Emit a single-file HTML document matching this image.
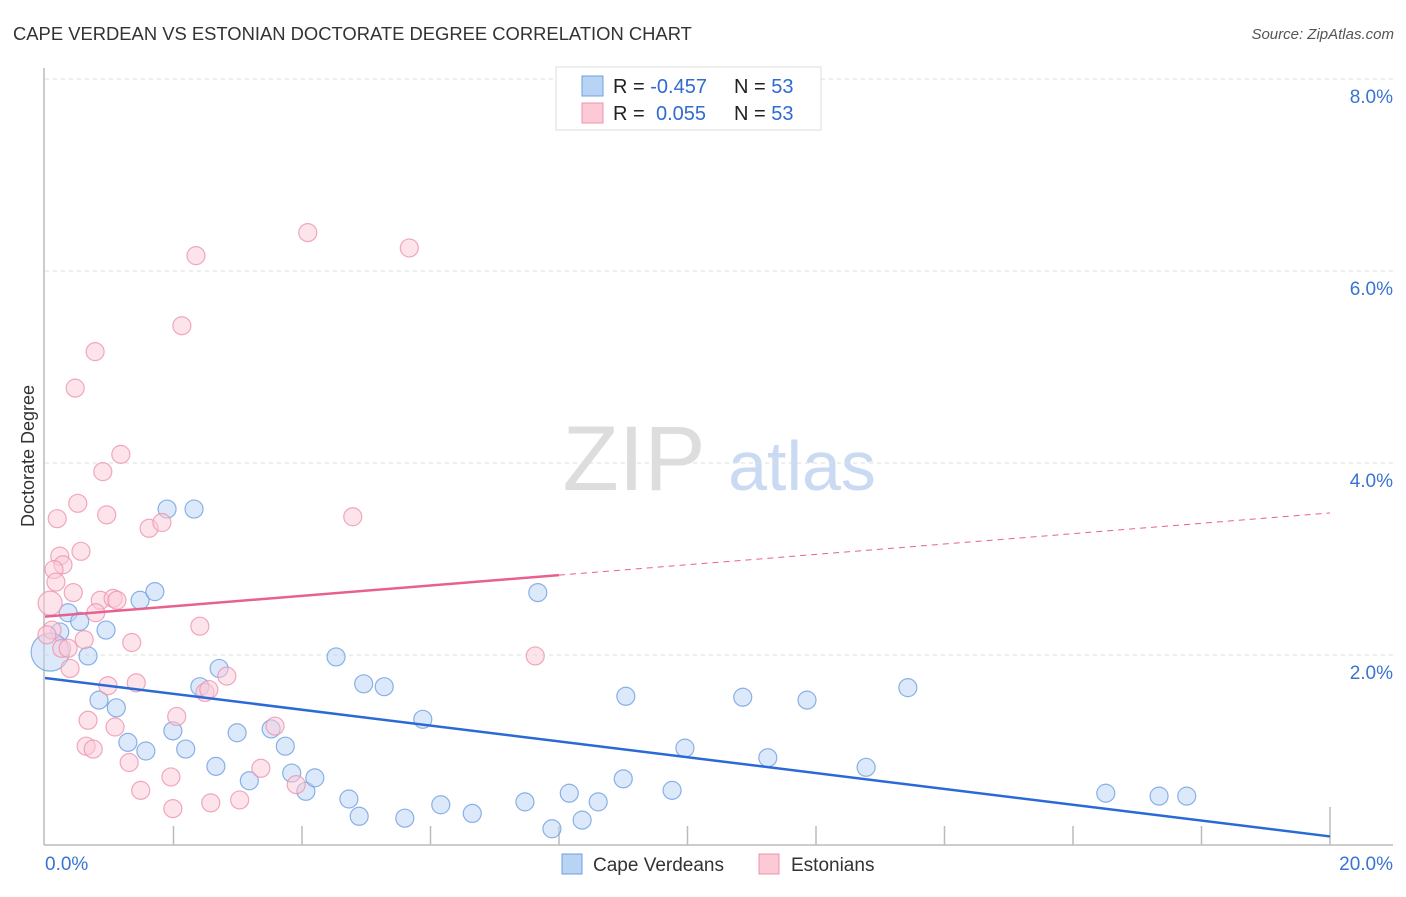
<!DOCTYPE html>
<html><head><meta charset="utf-8"><style>
body{margin:0;background:#fff;font-family:"Liberation Sans",sans-serif;}
svg text{font-family:"Liberation Sans",sans-serif;}
</style></head><body>
<svg id="chart" width="1406" height="892" xmlns="http://www.w3.org/2000/svg">
<text x="13" y="40" font-size="18.4" fill="#333">CAPE VERDEAN VS ESTONIAN DOCTORATE DEGREE CORRELATION CHART</text>
<text x="1394" y="39" font-size="15" fill="#555" text-anchor="end" font-style="italic">Source: ZipAtlas.com</text>
<g>
<text x="634" y="490" font-size="92" fill="#ddd" text-anchor="middle" font-family="Liberation Serif, serif">ZIP</text>
<text x="802" y="490" font-size="70" fill="#c9daf2" text-anchor="middle">atlas</text>
</g>
<g id="grid"></g><g id="axes"></g><g id="pts"></g><g id="lines"></g>
<text transform="translate(34,456) rotate(-90)" font-size="18" fill="#333" text-anchor="middle">Doctorate Degree</text>
<g>
<rect x="556" y="67" width="265" height="63" fill="#fff" stroke="#ddd"/>
<rect x="582" y="76" width="21" height="20" fill="#b9d3f5" stroke="#6f9fe0"/>
<rect x="582" y="103" width="21" height="20" fill="#fcc9d7" stroke="#ec93ae"/>
<text x="613" y="93" font-size="20" fill="#222">R = <tspan fill="#2f6bd0">-0.457</tspan></text>
<text x="734" y="93" font-size="20" fill="#222">N = <tspan fill="#2f6bd0">53</tspan></text>
<text x="613" y="120" font-size="20" fill="#222">R = <tspan fill="#2f6bd0" x="656">0.055</tspan></text>
<text x="734" y="120" font-size="20" fill="#222">N = <tspan fill="#2f6bd0">53</tspan></text>
</g>
<g>
<rect x="562" y="854" width="20" height="20" fill="#b9d3f5" stroke="#6f9fe0"/>
<text x="593" y="871" font-size="19" fill="#333">Cape Verdeans</text>
<rect x="759" y="854" width="20" height="20" fill="#fcc9d7" stroke="#ec93ae"/>
<text x="791" y="871" font-size="19" fill="#333">Estonians</text>
</g>
</svg>
<script>
const blueX=[0.36,0.54,0.23,0.95,0.67,0.08,0.84,1.11,1.29,1.57,1.48,1.71,1.90,2.32,1.99,2.19,2.41,2.71,2.66,2.99,3.18,3.52,3.74,3.84,4.06,4.20,4.53,4.73,4.89,4.96,5.28,5.60,5.88,6.16,6.65,7.47,7.67,7.89,8.16,8.36,8.61,9.00,9.04,9.76,9.96,10.86,11.25,11.86,12.78,13.43,16.51,17.34,17.77];
const blueY=[2.44,2.35,2.24,2.26,1.99,2.03,1.53,1.45,1.09,1.00,2.57,2.66,3.52,3.52,1.21,1.02,1.67,1.86,0.84,1.19,0.69,1.23,1.05,0.77,0.58,0.72,1.98,0.50,0.32,1.70,1.67,0.30,1.33,0.44,0.35,0.47,2.65,0.19,0.56,0.28,0.47,0.71,1.57,0.59,1.03,1.56,0.93,1.53,0.83,1.66,0.56,0.53,0.53];
const pinkX=[4.09,5.67,2.35,2.13,0.78,0.47,1.18,0.90,0.51,0.19,0.96,1.62,1.82,4.79,0.23,0.56,0.28,0.14,0.17,0.08,0.44,0.86,1.06,1.12,0.79,0.11,0.61,1.35,2.41,0.26,0.36,0.39,7.63,0.98,1.42,2.49,2.55,2.83,0.67,1.09,2.05,3.58,0.64,0.75,1.31,3.36,1.96,3.91,1.49,2.58,3.03,1.99,0.03];
const pinkY=[6.40,6.24,6.16,5.43,5.16,4.78,4.09,3.91,3.58,3.42,3.46,3.32,3.38,3.44,3.03,3.08,2.94,2.89,2.76,2.54,2.65,2.57,2.59,2.57,2.44,2.26,2.16,2.13,2.30,2.07,2.07,1.86,1.99,1.68,1.71,1.61,1.64,1.78,1.32,1.25,1.36,1.26,1.05,1.02,0.88,0.82,0.73,0.65,0.59,0.46,0.49,0.40,2.21];
const yTicks=[2,4,6,8];
const yTickLabels=["2.0%","4.0%","6.0%","8.0%"];
const xTicks=[0,2,4,6,8,10,12,14,16,18,20];
const blueTrend=[1.76,0.11];
const pinkTrend=[2.4,3.48];
const pinkSolidEnd=8.0;

const NS="http://www.w3.org/2000/svg";
const sx=v=>45+v*64.25, sy=v=>847-v*96;
function mk(tag,attrs,parent){const e=document.createElementNS(NS,tag);for(const k in attrs)e.setAttribute(k,attrs[k]);document.getElementById(parent).appendChild(e);return e;}
yTicks.forEach((t,i)=>{
 const g=mk('line',{x1:45,x2:1393,y1:sy(t),y2:sy(t),stroke:'#ddd','stroke-dasharray':'4,4'},'grid');
 
 
 const l=mk('text',{x:1393,y:sy(t)+24,'font-size':19,fill:'#3a73d3','text-anchor':'end'},'grid');
 l.textContent=yTickLabels[i];
 
 
});
const ya=mk('line',{x1:44,x2:44,y1:68,y2:845,stroke:'#bbb','stroke-width':1.5},'axes');


const xa=mk('line',{x1:44,x2:1393,y1:845,y2:845,stroke:'#bbb','stroke-width':1.5},'axes');


xTicks.forEach((t,i)=>{
 if(i===0)return;
 const tk=mk('line',{x1:sx(t),x2:sx(t),y1:(t===20?807:826),y2:845,stroke:'#bbb','stroke-width':1.5},'axes');
 
 
});
const x0=mk('text',{x:45,y:870,'font-size':19,fill:'#3a73d3'},'axes');x0.textContent='0.0%';


const x1=mk('text',{x:1393,y:870,'font-size':19,fill:'#3a73d3','text-anchor':'end'},'axes');x1.textContent='20.0%';


function dots(X,Y,fill,stroke,name,bigIdx,bigR){
 X.forEach((v,i)=>{
  const r=(i===bigIdx)?bigR:9;
  const c=mk('circle',{cx:sx(v),cy:sy(Y[i]),r:r,fill:fill,'fill-opacity':0.5,stroke:stroke,'stroke-width':1.2,'stroke-opacity':0.8},'pts');
  
  
 });
}
dots(blueX,blueY,'#b9d3f5','#6f9fe0','cape-verdean-point',5,19);
dots(pinkX,pinkY,'#fcc9d7','#ec93ae','estonian-point',19,12);
const bl=mk('line',{x1:sx(0),y1:sy(blueTrend[0]),x2:sx(20),y2:sy(blueTrend[1]),stroke:'#2a6ad6','stroke-width':2.5},'lines');


const pm=pinkTrend[0]+(pinkTrend[1]-pinkTrend[0])*pinkSolidEnd/20;
const pl=mk('line',{x1:sx(0),y1:sy(pinkTrend[0]),x2:sx(pinkSolidEnd),y2:sy(pm),stroke:'#e8618e','stroke-width':2.5},'lines');


const pd=mk('line',{x1:sx(pinkSolidEnd),y1:sy(pm),x2:sx(20),y2:sy(pinkTrend[1]),stroke:'#e8618e','stroke-width':1,'stroke-dasharray':'6,5'},'lines');


</script>
</body></html>
